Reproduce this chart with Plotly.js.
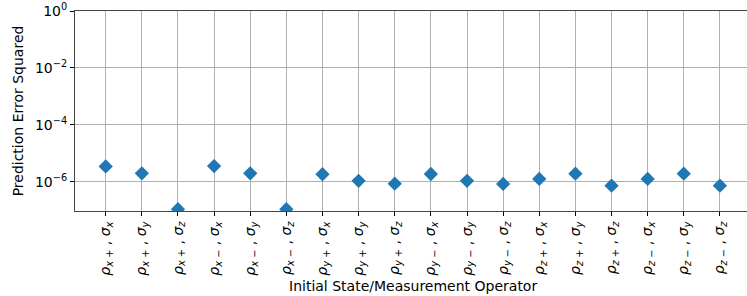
<!DOCTYPE html>
<html><head><meta charset="utf-8">
<script src="https://cdn.plot.ly/plotly-3.0.1.min.js"></script>
<style>body{margin:0;padding:0;background:#fff}#chart{width:747px;height:296px}</style>
</head><body><div id="chart"></div>
<script>
const states = ["x+","x+","x+","x−","x−","x−","y+","y+","y+","y−","y−","y−","z+","z+","z+","z−","z−","z−"];
const operators = ["x","y","z","x","y","z","x","y","z","x","y","z","x","y","z","x","y","z"];
const errorSquared = [3.5e-6,2.0e-6,1.1e-7,3.6e-6,2.0e-6,1.1e-7,1.86e-6,1.09e-6,8.7e-7,1.9e-6,1.09e-6,8.5e-7,1.28e-6,1.95e-6,7.4e-7,1.28e-6,1.95e-6,7.4e-7];
const yTickVals = [1,1e-2,1e-4,1e-6];
const yTickText = ["10<sup>0</sup>","10<sup>−2</sup>","10<sup>−4</sup>","10<sup>−6</sup>"];
const xTitle = "Initial State/Measurement Operator";

const idx = states.map((_, i) => i);
const labels = states.map((s, i) => "<i>ρ</i><sub><i>" + s.charAt(0) + "</i> " + s.slice(1) + "</sub> , <i>σ</i><sub><i>" + operators[i] + "</i></sub>");

Plotly.newPlot("chart", [{
  x: idx, y: errorSquared, type: "scatter", mode: "markers",
  marker: {symbol: "diamond", size: 11, color: "#1f77b4"},
  cliponaxis: true
}], {
  width: 747, height: 296,
  margin: {l: 75, r: 0, t: 11, b: 85},
  paper_bgcolor: "#fff", plot_bgcolor: "#fff",
  font: {family: "DejaVu Sans", size: 13, color: "#000"},
  showlegend: false,
  annotations: [{
    text: xTitle, xref: "x", yref: "paper", x: 8.5, y: -0.375,
    xanchor: "center", yanchor: "middle", showarrow: false, font: {size: 14}
  }],
  xaxis: {
    range: [-0.85, 17.75], tickvals: idx, ticktext: labels, tickangle: -90,
    showgrid: true, gridcolor: "#b0b0b0", gridwidth: 1,
    showline: true, linecolor: "#444", linewidth: 1, mirror: true,
    ticks: "outside", ticklen: 4, tickcolor: "#000", zeroline: false,
    tickfont: {size: 14}
  },
  yaxis: {
    type: "log", range: [-7.02, 0], tickvals: yTickVals, ticktext: yTickText,
    showgrid: true, gridcolor: "#b0b0b0", gridwidth: 1,
    showline: true, linecolor: "#444", linewidth: 1,
    ticks: "outside", ticklen: 4, tickcolor: "#000", zeroline: false,
    tickfont: {size: 14},
    title: {text: "Prediction Error Squared", font: {size: 14}, standoff: 8}
  }
}, {displayModeBar: false, staticPlot: true});
</script></body></html>
